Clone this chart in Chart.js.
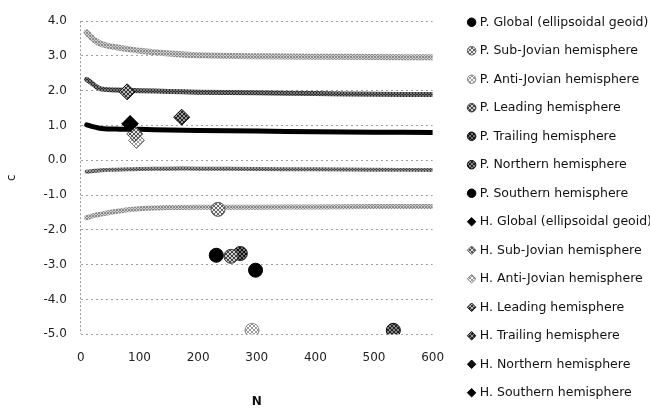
<!DOCTYPE html>
<html>
<head>
<meta charset="utf-8">
<script src="https://cdn.jsdelivr.net/npm/chart.js@4.4.0/dist/chart.umd.min.js"></script>
<style>
  html, body { margin: 0; padding: 0; background: #fff; }
  #contenedor { width: 650px; height: 408px; }
</style>
</head>
<body>
<div id="contenedor"><canvas id="grafico" width="650" height="408"></canvas></div>
<script>
// Curvas de c frente a N
const curvaN = [10, 20, 30, 40, 60, 80, 100, 150, 200, 300, 400, 500, 600];
const curva1 = [3.68, 3.50, 3.38, 3.32, 3.25, 3.20, 3.15, 3.07, 3.02, 2.99, 2.98, 2.97, 2.96];
const curva2 = [2.33, 2.20, 2.08, 2.04, 2.02, 2.01, 2.00, 1.98, 1.96, 1.94, 1.92, 1.90, 1.89];
const curva3 = [1.02, 0.97, 0.93, 0.91, 0.90, 0.89, 0.89, 0.87, 0.86, 0.84, 0.82, 0.81, 0.80];
const curva4 = [-0.33, -0.31, -0.29, -0.28, -0.27, -0.26, -0.25, -0.24, -0.24, -0.25, -0.26, -0.27, -0.28];
const curva5 = [-1.65, -1.60, -1.56, -1.53, -1.47, -1.42, -1.39, -1.36, -1.35, -1.35, -1.34, -1.33, -1.33];

// Puntos P. (círculos)
const nombresP = ['P. Global (ellipsoidal geoid)', 'P. Sub-Jovian hemisphere', 'P. Anti-Jovian hemisphere',
    'P. Leading hemisphere', 'P. Trailing hemisphere', 'P. Northern hemisphere', 'P. Southern hemisphere'];
const puntosPN = [231, 234, 292, 256, 272, 533, 298];
const puntosPc = [-2.73, -1.41, -4.89, -2.76, -2.68, -4.89, -3.16];

// Puntos H. (rombos)
const nombresH = ['H. Global (ellipsoidal geoid)', 'H. Sub-Jovian hemisphere', 'H. Anti-Jovian hemisphere',
    'H. Leading hemisphere', 'H. Trailing hemisphere', 'H. Northern hemisphere', 'H. Southern hemisphere'];
const puntosHN = [84, 92, 95, 79, 172, 84, 84];
const puntosHc = [1.05, 0.76, 0.57, 1.97, 1.24, 1.05, 1.05];

// Ejes
const ticksX = [0, 100, 200, 300, 400, 500, 600];
const ticksY = [-5, -4, -3, -2, -1, 0, 1, 2, 3, 4];

// Tramas en blanco y negro como en el original
function trama(fondo, linea, paso) {
    const c = document.createElement('canvas');
    c.width = c.height = paso;
    const g = c.getContext('2d');
    g.fillStyle = fondo;
    g.fillRect(0, 0, paso, paso);
    g.strokeStyle = linea;
    g.lineWidth = 1;
    g.beginPath();
    g.moveTo(0, 0); g.lineTo(paso, paso);
    g.moveTo(paso, 0); g.lineTo(0, paso);
    g.stroke();
    return g.createPattern(c, 'repeat');
}

const estilosP = [
    { fondo: '#000', borde: '#000' },
    { fondo: trama('#eee', '#666', 4), borde: '#555' },
    { fondo: trama('#fff', '#999', 4), borde: '#888' },
    { fondo: trama('#ccc', '#444', 4), borde: '#333' },
    { fondo: trama('#777', '#111', 4), borde: '#111' },
    { fondo: trama('#222', '#888', 4), borde: '#000' },
    { fondo: '#000', borde: '#000' }
];
const estilosH = [
    { fondo: '#000', borde: '#000' },
    { fondo: trama('#ddd', '#555', 4), borde: '#555' },
    { fondo: trama('#fff', '#999', 4), borde: '#777' },
    { fondo: trama('#333', '#bbb', 4), borde: '#000' },
    { fondo: trama('#222', '#999', 4), borde: '#000' },
    { fondo: '#111', borde: '#000' },
    { fondo: '#000', borde: '#000' }
];
const estilosCurva = [
    { color: trama('#d0d0d0', '#8a8a8a', 3), ancho: 6 },
    { color: trama('#2a2a2a', '#777', 3), ancho: 5 },
    { color: '#000', ancho: 5 },
    { color: trama('#444', '#999', 3), ancho: 4 },
    { color: trama('#cfcfcf', '#888', 3), ancho: 5 }
];

const datasets = [];

nombresP.forEach((nombre, i) => {
    datasets.push({
        label: nombre,
        data: [{ x: puntosPN[i], y: puntosPc[i] }],
        pointStyle: 'circle',
        pointRadius: 7,
        backgroundColor: estilosP[i].fondo,
        borderColor: estilosP[i].borde,
        borderWidth: 1
    });
});

nombresH.forEach((nombre, i) => {
    datasets.push({
        label: nombre,
        data: [{ x: puntosHN[i], y: puntosHc[i] }],
        pointStyle: 'rectRot',
        pointRadius: 8,
        backgroundColor: estilosH[i].fondo,
        borderColor: estilosH[i].borde,
        borderWidth: 1
    });
});

[curva1, curva2, curva3, curva4, curva5].forEach((curva, i) => {
    datasets.push({
        label: 'curva' + (i + 1),
        data: curvaN.map((n, j) => ({ x: n, y: curva[j] })),
        showLine: true,
        pointRadius: 0,
        tension: 0.35,
        borderColor: estilosCurva[i].color,
        borderWidth: estilosCurva[i].ancho,
        borderCapStyle: 'round'
    });
});

const fuente = '"DejaVu Sans", sans-serif';

new Chart(document.getElementById('grafico'), {
    type: 'scatter',
    data: { datasets: datasets },
    options: {
        responsive: false,
        animation: false,
        devicePixelRatio: 1,
        // la leyenda se sale un poco por la derecha, como en el original
        layout: { padding: { left: 0, right: -12, top: 0, bottom: -10 } },
        plugins: {
            tooltip: { enabled: false },
            title: {
                display: true,
                text: '',
                fullSize: false,
                padding: 0,
                font: { size: 14, lineHeight: 1 }
            },
            legend: {
                position: 'right',
                align: 'start',
                maxWidth: 400,
                labels: {
                    usePointStyle: true,
                    boxWidth: 4,
                    boxHeight: 6,
                    padding: 16,
                    color: '#111',
                    font: { family: fuente, size: 12.5 },
                    filter: item => item.datasetIndex < 14
                }
            }
        },
        scales: {
            x: {
                type: 'linear',
                min: 0,
                max: 600,
                afterBuildTicks: s => { s.ticks = ticksX.map(v => ({ value: v })); },
                grid: {
                    drawTicks: false,
                    color: c => (c.tick && c.tick.value === 0) ? '#999' : 'rgba(0,0,0,0)'
                },
                border: { display: false, dash: [2, 2] },
                ticks: { padding: 16, color: '#222', font: { family: fuente, size: 12 } },
                title: {
                    display: true,
                    text: 'N',
                    color: '#111',
                    font: { family: fuente, size: 12, weight: 'bold' },
                    padding: { top: 14, bottom: 9 }
                }
            },
            y: {
                min: -5,
                max: 4,
                afterBuildTicks: s => { s.ticks = ticksY.map(v => ({ value: v })); },
                grid: { drawTicks: false, color: '#a0a0a0' },
                border: { display: false, dash: [2, 3] },
                ticks: {
                    padding: 14,
                    color: '#222',
                    font: { family: fuente, size: 12 },
                    callback: v => v.toFixed(1)
                },
                title: {
                    display: true,
                    text: 'c',
                    color: '#111',
                    font: { family: fuente, size: 12 },
                    padding: { top: 5, bottom: 10 }
                }
            },
            y2: {
                position: 'right',
                display: true,
                grid: { display: false },
                border: { display: false },
                ticks: { display: false },
                afterFit: s => { s.width = 21; }
            }
        }
    }
});
</script>
</body>
</html>
